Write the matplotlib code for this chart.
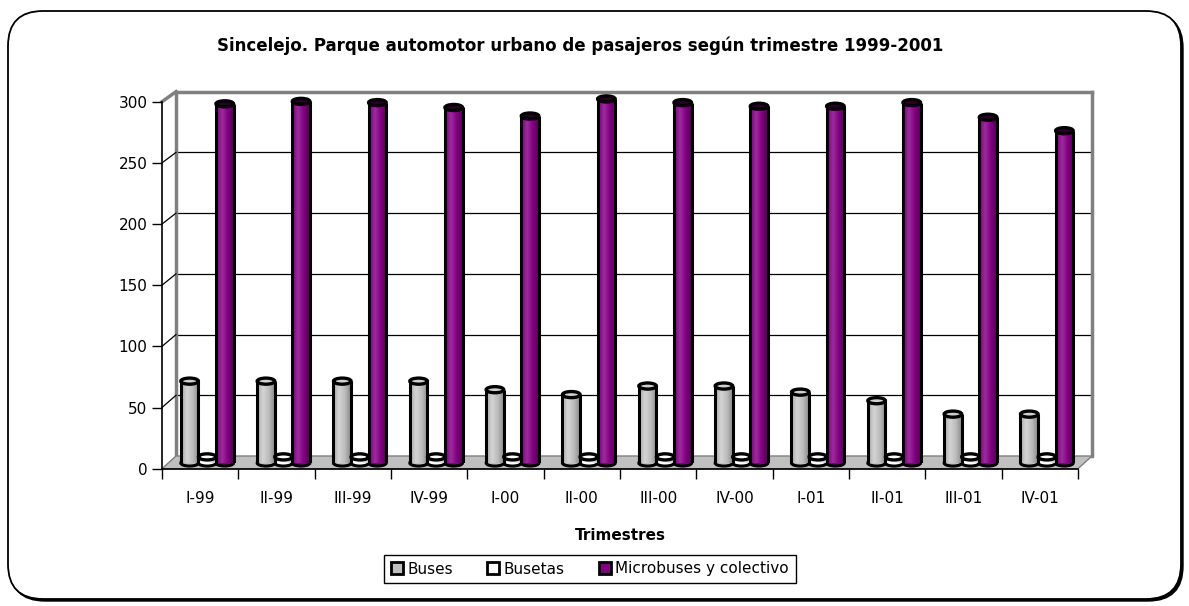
import numpy as np
import matplotlib
matplotlib.use('Agg')
import matplotlib.pyplot as plt
from matplotlib.patches import Ellipse, Polygon, FancyBboxPatch, Patch
from matplotlib.lines import Line2D
from matplotlib.colors import LinearSegmentedColormap
from matplotlib.transforms import IdentityTransform

# datos
trimestres = ['I-99', 'II-99', 'III-99', 'IV-99', 'I-00', 'II-00',
              'III-00', 'IV-00', 'I-01', 'II-01', 'III-01', 'IV-01']
buses = [67, 67, 67, 67, 60, 56, 63, 63, 58, 51, 40, 40]
busetas = [5, 5, 5, 5, 5, 5, 5, 5, 5, 5, 5, 5]
microbuses = [294, 296, 295, 291, 284, 298, 295, 292, 292, 295, 283, 272]
series = ['Buses', 'Busetas', 'Microbuses y colectivo']
y_ticks = [0, 50, 100, 150, 200, 250, 300]

titulo = 'Sincelejo. Parque automotor urbano de pasajeros según trimestre 1999-2001'

# colores por serie: degradado (4 tonos), color base, tapa
degradados = [['#a9a9a9', '#d4d4d4', '#bcbcbc', '#8a8a8a'],
              ['#ffffff', '#ffffff', '#f0f0f0', '#c8c8c8'],
              ['#7a007a', '#9c2c9c', '#800080', '#520052']]
base = ['#c0c0c0', '#ffffff', '#800080']
tapas = ['#cfcfcf', '#ffffff', '#2a002a']

plt.rcParams['font.family'] = ['DejaVu Sans']

W, H = 1189, 606
fig = plt.figure(figsize=(W / 100, H / 100), dpi=100)


def rect(x0, y0, x1, y1):
    # caja en pixeles (origen arriba-izquierda) -> fraccion de figura
    return [x0 / W, 1 - y1 / H, (x1 - x0) / W, (y1 - y0) / H]


# marco redondeado con sombra
sombra = FancyBboxPatch((10, 5), 1173, 588, boxstyle='round,pad=0,rounding_size=35',
                        fc='black', ec='black', lw=1, transform=IdentityTransform(), zorder=-5)
marco = FancyBboxPatch((8, 7), 1173, 588, boxstyle='round,pad=0,rounding_size=35',
                       fc='white', ec='black', lw=1.3, transform=IdentityTransform(), zorder=-4)
fig.add_artist(sombra)
fig.add_artist(marco)

n = len(trimestres)
xlim = (-0.5, n - 0.5)

# pared del fondo
ax_back = fig.add_axes(rect(176, 91.7, 1092, 456), zorder=0)
ax_back.set_xlim(*xlim)
ax_back.set_ylim(0, 300)
ax_back.set_xticks([])
ax_back.set_yticks([])
for v in y_ticks[1:-1]:
    ax_back.axhline(v, color='black', lw=0.9)
for s in ['left', 'top', 'right']:
    ax_back.spines[s].set_color('#808080')
    ax_back.spines[s].set_linewidth(2.5)
ax_back.spines['bottom'].set_visible(False)

# eje frontal (marcas y etiquetas)
ax_front = fig.add_axes(rect(162, 101.7, 1078, 468.7), zorder=2)
ax_front.patch.set_visible(False)
ax_front.set_xlim(*xlim)
ax_front.set_ylim(0, 300)
ax_front.set_yticks(y_ticks)
ax_front.set_yticklabels([str(v) for v in y_ticks], fontsize=11)
ax_front.set_xticks(np.arange(n + 1) - 0.5)
ax_front.set_xticklabels([])
ax_front.set_xticks(np.arange(n), minor=True)
ax_front.set_xticklabels(trimestres, minor=True, fontsize=11)
ax_front.tick_params(axis='y', direction='out', length=7, width=1, pad=3.5)
ax_front.tick_params(axis='x', which='major', direction='out', length=7, width=1)
ax_front.tick_params(axis='x', which='minor', length=0, pad=16)
for s in ['top', 'right']:
    ax_front.spines[s].set_visible(False)
ax_front.spines['left'].set_linewidth(1.2)
ax_front.spines['bottom'].set_linewidth(1.2)
ax_front.set_xlabel('Trimestres', fontsize=11, fontweight='bold')
ax_front.xaxis.set_label_coords(0.5, -0.162)

# piso y pared lateral
to_fig = fig.transFigure.inverted()


def punto(ax, x, y):
    return to_fig.transform(ax.transData.transform((x, y)))


piso = [punto(ax_front, xlim[0], 0), punto(ax_front, xlim[1], 0),
        punto(ax_back, xlim[1], 0), punto(ax_back, xlim[0], 0)]
fig.add_artist(Polygon(piso, closed=True, fc='#c0c0c0', ec='#808080', lw=1,
                       transform=fig.transFigure, zorder=1))
for v in y_ticks[1:]:
    a = punto(ax_front, xlim[0], v)
    b = punto(ax_back, xlim[0], v)
    kw = dict(color='#808080', lw=2.5) if v == 300 else dict(color='black', lw=0.9)
    fig.add_artist(Line2D([a[0], b[0]], [a[1], b[1]], transform=fig.transFigure, zorder=1, **kw))

# barras (cilindros) a media profundidad
ax_mid = fig.add_axes(rect(169, 96.5, 1085, 463), zorder=3)
ax_mid.set_axis_off()
ax_mid.patch.set_visible(False)

w = 0.23
eh = 5.0
grad = np.linspace(0, 1, 64)[None, :]
valores = [buses, busetas, microbuses]
for i, vals in enumerate(valores):
    cmap = LinearSegmentedColormap.from_list('c%d' % i, degradados[i])
    off = (i - 1) * w
    for j, v in enumerate(vals):
        x = j + off
        ax_mid.add_patch(Ellipse((x, 0), w, eh, fc=base[i], ec='black', lw=2.2,
                                 zorder=1, clip_on=False))
        ax_mid.imshow(grad, cmap=cmap, extent=(x - w / 2, x + w / 2, 0, v),
                      aspect='auto', interpolation='bilinear', zorder=2, clip_on=False)
        ax_mid.vlines([x - w / 2, x + w / 2], 0, v, color='black', lw=2.2, zorder=3)
        ax_mid.add_patch(Ellipse((x, v), w, eh, fc=tapas[i], ec='black', lw=2.4,
                                 zorder=4, clip_on=False))
ax_mid.set_xlim(*xlim)
ax_mid.set_ylim(0, 300)

fig.text(580 / W, 1 - 46 / H, titulo, ha='center', va='center',
         fontsize=12, fontweight='bold')

handles = [Patch(fc=base[i], ec='black', lw=2) for i in range(3)]
leg = fig.legend(handles, series, loc='center', bbox_to_anchor=(590 / W, 1 - 569 / H),
                 ncol=3, fontsize=11, frameon=True, fancybox=False, framealpha=1,
                 edgecolor='black', handlelength=0.8, handleheight=0.8,
                 handletextpad=0.3, columnspacing=2.2, borderpad=0.45, borderaxespad=0)
leg.get_frame().set_linewidth(1)

fig.savefig('out.png', dpi=100)
